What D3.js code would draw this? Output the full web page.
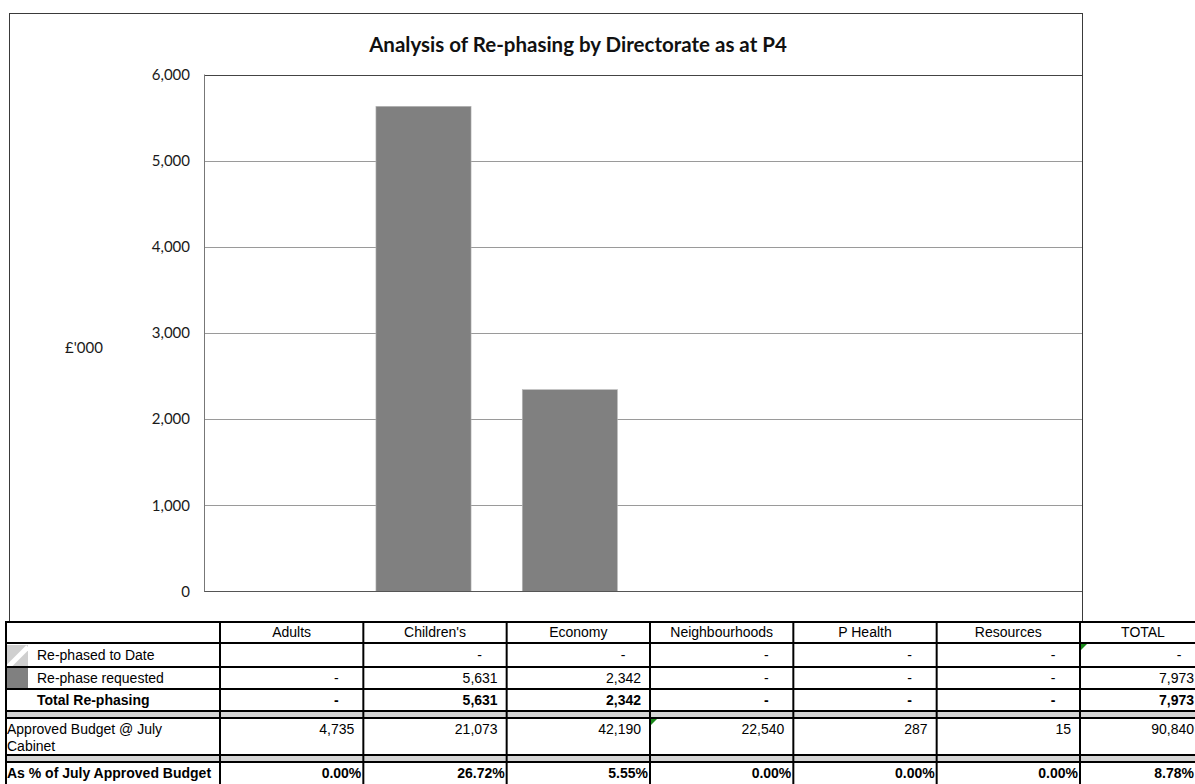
<!DOCTYPE html>
<html><head><meta charset="utf-8">
<script src="https://cdn.jsdelivr.net/npm/d3@7"></script>
<style>
html,body{margin:0;padding:0;background:#fff;}
svg{display:block;}
</style>
</head><body>
<svg id="chart" width="1195" height="784"></svg>
<script>
// ---- data ----
const categories = ["Adults", "Children's", "Economy", "Neighbourhoods", "P Health", "Resources"];
const rephasedToDate = [null, 0, 0, 0, 0, 0];
const rephaseRequested = [0, 5631, 2342, 0, 0, 0];
const approvedBudget = [4735, 21073, 42190, 22540, 287, 15];
const yTicks = [0, 1000, 2000, 3000, 4000, 5000, 6000];
const titleText = "Analysis of Re-phasing by Directorate as at P4";
const yLabel = "£'000";
const totalLabel = "TOTAL";
const rowLabels = ["Re-phased to Date", "Re-phase requested", "Total Re-phasing", "Approved Budget @ July|Cabinet", "As % of July Approved Budget"];

// ---- derived ----
const sum = a => d3.sum(a, v => v || 0);
const totalRephasing = rephaseRequested.map((v, i) => (rephasedToDate[i] || 0) + v);
const totals = {
  toDate: sum(rephasedToDate),
  requested: sum(rephaseRequested),
  total: sum(totalRephasing),
  budget: sum(approvedBudget)
};
const pct = totalRephasing.map((v, i) => v / approvedBudget[i]);
const pctTotal = totals.total / totals.budget;

const svg = d3.select("#chart");
svg.append("rect").attr("width", 1195).attr("height", 784).attr("fill", "#fff");

const chartFont = "Lato, 'Open Sans', sans-serif";
const tableFont = "'Liberation Sans', Arial, sans-serif";
const tfs = 14;

// chart outer border
svg.append("rect").attr("x", 9.5).attr("y", 13.5).attr("width", 1073).attr("height", 640)
  .attr("fill", "none").attr("stroke", "#3a3a3a").attr("stroke-width", 1);

// plot geometry
const plot = {l: 204, r: 1082, t: 74.5, b: 591.5};
const x = d3.scaleBand().domain(categories).range([plot.l, plot.r]).paddingInner(0.35).paddingOuter(0.175);
const y = d3.scaleLinear().domain([0, 6000]).range([plot.b, plot.t]);

// gridlines
svg.append("g").selectAll("line").data(yTicks.filter(t => t > 0 && t < 6000)).join("line")
  .attr("x1", plot.l).attr("x2", plot.r)
  .attr("y1", d => Math.round(y(d)) + 0.5).attr("y2", d => Math.round(y(d)) + 0.5)
  .attr("stroke", "#9a9a9a").attr("stroke-width", 1);

// bars (stacked: to date + requested)
const barG = svg.append("g");
categories.forEach((c, i) => {
  const base = rephasedToDate[i] || 0;
  const v = rephaseRequested[i];
  if (v > 0) {
    barG.append("rect")
      .attr("x", x(c)).attr("width", x.bandwidth())
      .attr("y", y(base + v)).attr("height", y(base) - y(base + v))
      .attr("fill", "#808080").attr("stroke", "#b8b8b8").attr("stroke-width", 0.6);
  }
});

// plot border
svg.append("line").attr("x1", plot.l).attr("x2", plot.r).attr("y1", Math.round(plot.t) + 0.5).attr("y2", Math.round(plot.t) + 0.5)
  .attr("stroke", "#444").attr("stroke-width", 1.2);
svg.append("line").attr("x1", plot.l).attr("x2", plot.r).attr("y1", plot.b).attr("y2", plot.b)
  .attr("stroke", "#555").attr("stroke-width", 1.2);
svg.append("line").attr("x1", plot.l + 0.5).attr("x2", plot.l + 0.5).attr("y1", plot.t).attr("y2", plot.b)
  .attr("stroke", "#777").attr("stroke-width", 1);

// y axis tick labels
const yAxis = d3.axisLeft(y).tickValues(yTicks).tickSize(0).tickPadding(0).tickFormat(d3.format(","));
const ya = svg.append("g").attr("transform", `translate(${190},0)`).call(yAxis);
ya.select(".domain").remove();
ya.selectAll("text").attr("font-family", chartFont).attr("font-size", 15).attr("fill", "#1a1a1a");

// y label
svg.append("text").attr("x", 84).attr("y", 347).attr("text-anchor", "middle").attr("dominant-baseline", "central")
  .attr("font-family", chartFont).attr("font-size", 15).attr("fill", "#1a1a1a").text(yLabel);

// title
svg.append("text").attr("x", 578).attr("y", 52).attr("text-anchor", "middle")
  .attr("font-family", chartFont).attr("font-size", 20.5).attr("font-weight", "bold").attr("fill", "#111").text(titleText);

// ---- data table ----
const tableLeft = 5, labelRight = 220;
const cx = d3.scaleBand().domain(categories).range([labelRight, 1080]);
const totalCol = {l: 1080, r: 1206};
const colLeft = c => c === totalLabel ? totalCol.l : cx(c);
const colRight = c => c === totalLabel ? totalCol.r : cx(c) + cx.bandwidth();
const textRight = c => c === totalLabel ? 1194 : colRight(c);
const cols = categories.concat([totalLabel]);
const tbl = svg.append("g");
tbl.append("rect").attr("x", tableLeft).attr("y", 622).attr("width", 1195).attr("height", 170).attr("fill", "#fff");

// gray separator bands
[[711, 718], [755, 762]].forEach(([a, b]) => {
  tbl.append("rect").attr("x", tableLeft).attr("y", a).attr("width", 1195).attr("height", b - a).attr("fill", "#d4d4d4");
});
// swatches
const defs = svg.append("defs");
const pat = defs.append("pattern").attr("id", "hatch").attr("patternUnits", "userSpaceOnUse")
  .attr("width", 22).attr("height", 22).attr("x", 6).attr("y", 645);
pat.append("rect").attr("width", 22).attr("height", 22).attr("fill", "#cfcfcf");
pat.append("line").attr("x1", 2).attr("y1", 22).attr("x2", 22).attr("y2", 2).attr("stroke", "#fff").attr("stroke-width", 5);
tbl.append("rect").attr("x", 6).attr("y", 645).attr("width", 22).attr("height", 21).attr("fill", "url(#hatch)");
tbl.append("rect").attr("x", 6).attr("y", 668).attr("width", 22).attr("height", 21).attr("fill", "#808080");

// horizontal lines
[622, 643, 667, 689, 711, 718, 755, 762].forEach(yy => {
  tbl.append("line").attr("x1", tableLeft).attr("x2", 1195).attr("y1", yy).attr("y2", yy)
    .attr("stroke", "#000").attr("stroke-width", 2);
});
// vertical lines
[tableLeft + 1, labelRight].concat(cols.map(colRight)).forEach(xx => {
  tbl.append("line").attr("x1", xx).attr("x2", xx).attr("y1", 621).attr("y2", 784)
    .attr("stroke", "#000").attr("stroke-width", 2);
});

const fmtN = d3.format(",");
const fmtP = d3.format(".2%");
function numCell(col, yy, v, bold) {
  if (v === null || v === undefined) return;
  const right = colRight(col);
  const t = tbl.append("text").attr("y", yy).attr("font-family", tableFont).attr("font-size", tfs)
    .attr("font-weight", bold ? "bold" : "normal").attr("fill", "#000");
  if (v === 0) t.attr("x", right - 27).attr("text-anchor", "middle").text("-");
  else t.attr("x", Math.min(right - 9, textRight(col))).attr("text-anchor", "end").text(fmtN(v));
}
// headers
cols.forEach(c => {
  tbl.append("text").attr("x", (colLeft(c) + colRight(c)) / 2).attr("y", 637).attr("text-anchor", "middle")
    .attr("font-family", tableFont).attr("font-size", tfs).attr("fill", "#000").text(c);
});
// row labels
const lab = (txt, xx, yy, bold) => tbl.append("text").attr("x", xx).attr("y", yy).attr("font-family", tableFont)
  .attr("font-size", tfs).attr("font-weight", bold ? "bold" : "normal").attr("fill", "#000").text(txt);
lab(rowLabels[0], 37, 660);
lab(rowLabels[1], 37, 683);
lab(rowLabels[2], 37, 705, true);
rowLabels[3].split("|").forEach((s, k) => lab(s, 7, 734 + k * 16.5));
lab(rowLabels[4], 7, 778, true);

categories.forEach((c, i) => {
  numCell(c, 660, rephasedToDate[i]);
  numCell(c, 683, rephaseRequested[i]);
  numCell(c, 705, totalRephasing[i], true);
  numCell(c, 734, approvedBudget[i]);
  tbl.append("text").attr("x", colRight(c) - 2).attr("y", 778).attr("text-anchor", "end")
    .attr("font-family", tableFont).attr("font-size", tfs).attr("font-weight", "bold").text(fmtP(pct[i]));
});
numCell(totalLabel, 660, totals.toDate);
numCell(totalLabel, 683, totals.requested);
numCell(totalLabel, 705, totals.total, true);
numCell(totalLabel, 734, totals.budget);
tbl.append("text").attr("x", textRight(totalLabel)).attr("y", 778).attr("text-anchor", "end")
  .attr("font-family", tableFont).attr("font-size", tfs).attr("font-weight", "bold").text(fmtP(pctTotal));

// green error indicators
[[cx("Neighbourhoods") + 1, 719], [totalCol.l + 1, 644]].forEach(([gx, gy]) => {
  tbl.append("path").attr("d", `M${gx},${gy}h6l-6,6z`).attr("fill", "#1a8a1a");
});
</script>
</body></html>
